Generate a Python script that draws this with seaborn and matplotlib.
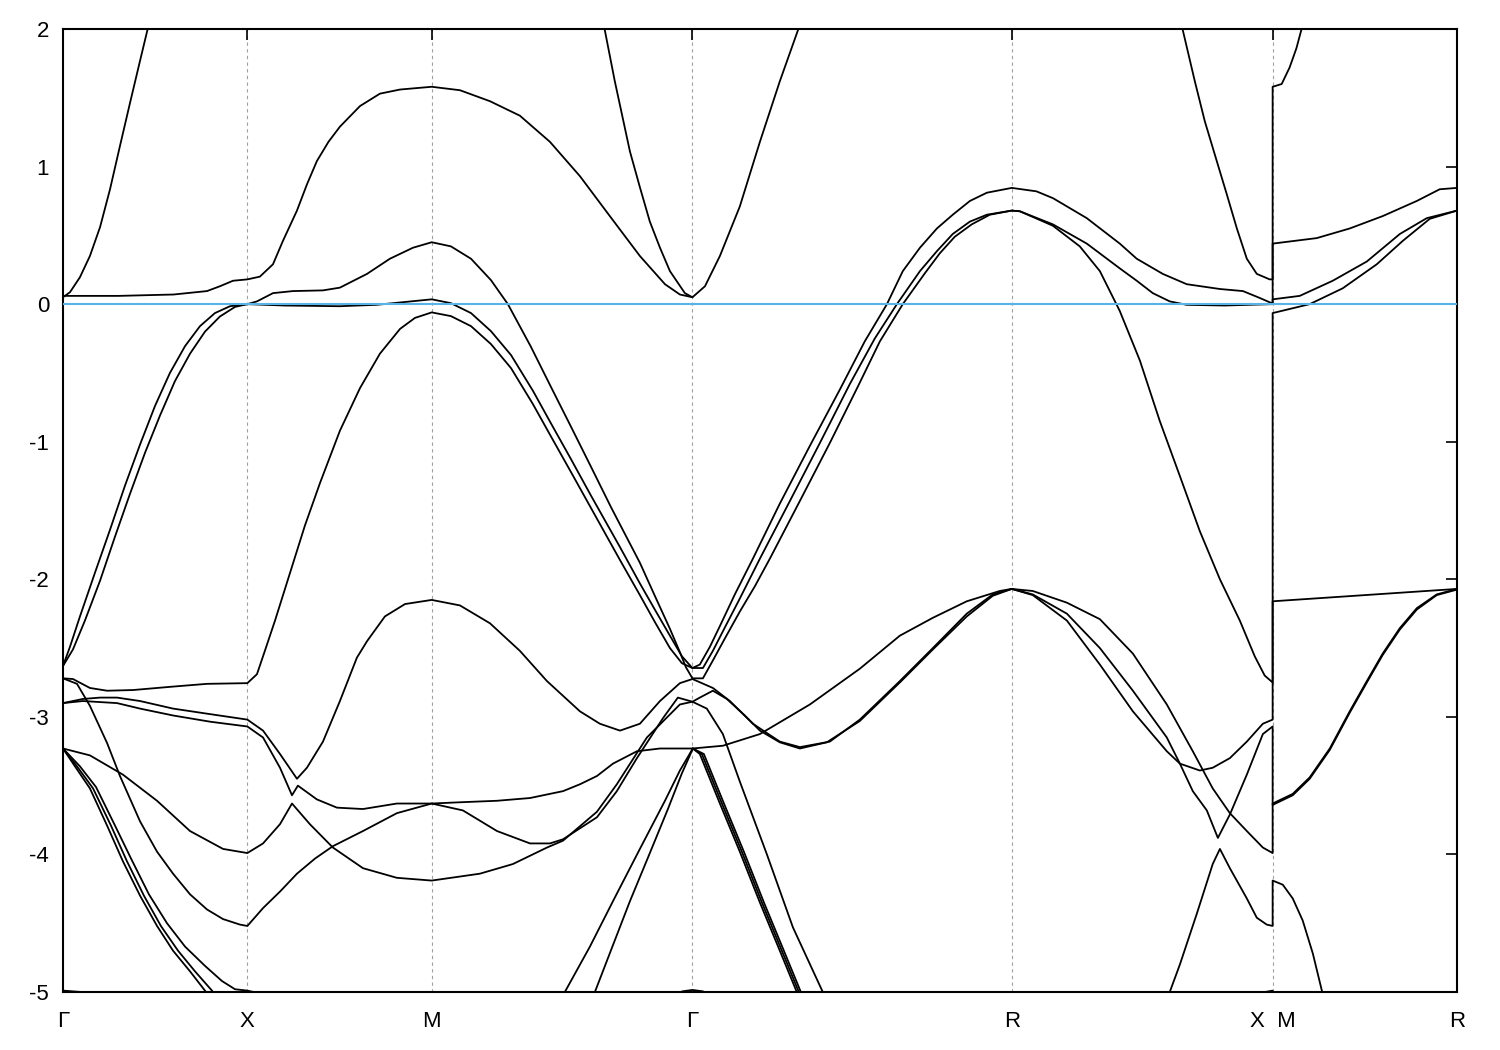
import matplotlib
matplotlib.use("Agg")
import matplotlib.pyplot as plt
import numpy as np
import pandas as pd
import seaborn as sns

# %% High-symmetry path (k in units of 2pi/a along the path)
TICK_POS = [0.0, 1.0, 2.0, 3.414, 5.146, 6.561, 7.561]
TICK_LABELS = ["Γ", "X", "M", "Γ", "R", "X  M", "R"]
GRID_POS = [1.0, 2.0, 3.414, 5.146, 6.561]
YTICKS = [-5, -4, -3, -2, -1, 0, 1, 2]

# %% Bands (k, E in eV); the X|M jump is kept as a repeated k
gx_steep_k = [0, 0.038, 0.092, 0.146, 0.201, 0.255, 0.309, 0.363, 0.418, 0.461, 0.48]
gx_steep_e = [0.05, 0.087, 0.196, 0.35, 0.56, 0.835, 1.15, 1.46, 1.77, 2.01, 2.12]

flat_k = [0, 0.3, 0.6, 0.781, 0.851, 0.922, 1.0, 1.068, 1.139, 1.193, 1.269, 1.323, 1.377, 1.44, 1.502,
          1.611, 1.719, 1.828, 2.0, 2.153, 2.316, 2.478, 2.641, 2.804, 2.966, 3.129, 3.265, 3.346, 3.414]
flat_e = [0.06, 0.06, 0.07, 0.095, 0.13, 0.17, 0.18, 0.20, 0.29, 0.46, 0.68, 0.87, 1.04, 1.18, 1.29,
          1.44, 1.53, 1.56, 1.58, 1.555, 1.475, 1.37, 1.18, 0.93, 0.64, 0.35, 0.145, 0.07, 0.05]

gamma_v_k = [2.91, 2.939, 2.993, 3.075, 3.129, 3.183, 3.238, 3.292, 3.373, 3.414, 3.482, 3.563, 3.671,
             3.78, 3.888, 3.986, 4.01]
gamma_v_e = [2.2, 1.99, 1.62, 1.11, 0.85, 0.60, 0.41, 0.24, 0.08, 0.05, 0.13, 0.35, 0.71,
             1.18, 1.62, 1.99, 2.1]

rx_top_k = [6.06, 6.074, 6.139, 6.193, 6.258, 6.312, 6.367, 6.421, 6.475, 6.545, 6.561,
            6.561, 6.61, 6.653, 6.69, 6.72]
rx_top_e = [2.1, 1.99, 1.62, 1.33, 1.04, 0.80, 0.55, 0.33, 0.22, 0.18, 0.18,
            1.58, 1.60, 1.72, 1.86, 2.01]

band_e_k = [0, 0.054, 0.119, 0.201, 0.282, 0.363, 0.445, 0.526, 0.607, 0.689, 0.770, 0.851, 0.933, 1.0,
            1.2, 1.5, 1.7, 1.79, 2.0,
            2.104, 2.213, 2.321, 2.430, 2.549, 2.646, 2.755, 2.863, 3.021, 3.129, 3.210, 3.292, 3.357, 3.414,
            3.454, 3.509, 3.563, 3.644, 3.742, 3.888, 4.051, 4.214, 4.349, 4.469, 4.555, 4.648, 4.740,
            4.826, 4.919, 5.011, 5.146,
            5.28, 5.37, 5.553, 5.732, 5.824, 5.965, 6.095, 6.275, 6.4, 6.491, 6.556, 6.561,
            6.561, 6.800, 6.979, 7.158, 7.343, 7.467, 7.561]
band_e_e = [-2.63, -2.51, -2.30, -2.01, -1.69, -1.38, -1.08, -0.81, -0.56, -0.36, -0.20, -0.09, -0.02, 0.0,
            -0.01, -0.015, -0.005, 0.007, 0.035,
            0.007, -0.065, -0.196, -0.37, -0.63, -0.865, -1.126, -1.39, -1.766, -2.03, -2.22, -2.41, -2.56, -2.645,
            -2.62, -2.49, -2.34, -2.11, -1.85, -1.45, -1.03, -0.62, -0.27, 0.0, 0.24, 0.41, 0.55,
            0.65, 0.75, 0.81, 0.845,
            0.82, 0.77, 0.625, 0.44, 0.33, 0.22, 0.145, 0.11, 0.095, 0.045, 0.007, 0.005,
            0.44, 0.48, 0.55, 0.64, 0.75, 0.835, 0.845]

band_f_k = [0, 0.054, 0.146, 0.239, 0.38, 0.597, 0.781, 1.0,
            1.052, 1.095, 1.150, 1.231, 1.312, 1.394, 1.502, 1.611, 1.719, 1.828, 1.909, 2.0,
            2.104, 2.213, 2.321, 2.430, 2.549, 2.646, 2.755, 2.863, 3.021, 3.129, 3.210, 3.292, 3.357, 3.414,
            3.471, 3.525, 3.59, 3.671, 3.780, 3.943, 4.105, 4.268, 4.403, 4.523, 4.648, 4.740, 4.826,
            4.919, 5.011, 5.146,
            5.19, 5.369, 5.553, 5.732, 5.824, 5.911, 6.003, 6.095, 6.3, 6.561,
            6.561, 6.708, 6.887, 7.072, 7.251, 7.397, 7.561]
band_f_e = [-2.72, -2.725, -2.79, -2.81, -2.805, -2.78, -2.76, -2.755,
            -2.69, -2.52, -2.30, -1.955, -1.61, -1.30, -0.92, -0.61, -0.36, -0.18, -0.10, -0.06,
            -0.087, -0.16, -0.29, -0.465, -0.727, -0.96, -1.22, -1.48, -1.86, -2.115, -2.31, -2.50, -2.61, -2.645,
            -2.645, -2.52, -2.35, -2.14, -1.85, -1.43, -1.01, -0.58, -0.25, 0.0, 0.24, 0.385, 0.51,
            0.60, 0.65, 0.68,
            0.675, 0.58, 0.44, 0.26, 0.17, 0.08, 0.02, -0.005, -0.01, 0.0,
            0.035, 0.06, 0.17, 0.31, 0.51, 0.625, 0.68]

band_g_k = [0, 0.038, 0.092, 0.174, 0.255, 0.336, 0.418, 0.499, 0.580, 0.662, 0.743, 0.824, 0.906, 1.0,
            1.052, 1.139, 1.247, 1.41, 1.502, 1.649, 1.773, 1.898, 2.0,
            2.104, 2.213, 2.321, 2.413, 2.538, 2.646, 2.755, 2.863, 2.972, 3.129, 3.210, 3.292,
            3.346, 3.379, 3.414,
            3.471, 3.525, 3.59, 3.671, 3.753, 3.834, 3.997, 4.159, 4.311, 4.431, 4.555, 4.675, 4.756,
            4.837, 4.929, 5.027, 5.146,
            5.19, 5.369, 5.515, 5.624, 5.732, 5.841, 5.949, 6.058, 6.166, 6.275, 6.383, 6.464,
            6.518, 6.561,
            6.561, 6.762, 6.941, 7.126, 7.267, 7.413, 7.561]
band_g_e = [-2.63, -2.49, -2.27, -1.95, -1.64, -1.32, -1.02, -0.74, -0.50, -0.305, -0.16, -0.065, -0.015, 0.0,
            0.02, 0.08, 0.095, 0.10, 0.12, 0.22, 0.33, 0.41, 0.45,
            0.42, 0.33, 0.175, 0.0, -0.31, -0.60, -0.89, -1.18, -1.475, -1.88, -2.12, -2.36,
            -2.53, -2.64, -2.72,
            -2.72, -2.59, -2.43, -2.235, -2.05, -1.85, -1.43, -1.01, -0.60, -0.27, 0.0, 0.225, 0.37,
            0.49, 0.58, 0.65, 0.68,
            0.675, 0.57, 0.42, 0.24, -0.05, -0.41, -0.85, -1.25, -1.65, -2.0, -2.30, -2.56,
            -2.70, -2.75,
            -0.065, 0.0, 0.115, 0.29, 0.46, 0.62, 0.68]

band_l3_k = [0, 0.108, 0.201, 0.293, 0.418, 0.597, 0.797, 1.0,
             1.085, 1.177, 1.269, 1.323, 1.410, 1.502, 1.594, 1.649, 1.746, 1.855, 2.0,
             2.153, 2.316, 2.478, 2.625, 2.804, 2.912, 3.021, 3.129, 3.238, 3.346, 3.414,
             3.525, 3.617, 3.742, 3.888, 3.997, 4.159, 4.322, 4.539, 4.718, 4.902, 5.043, 5.146,
             5.260, 5.445, 5.624, 5.803, 5.987, 6.058, 6.166, 6.236, 6.329, 6.421, 6.508, 6.561,
             6.561, 7.061, 7.561]
band_l3_e = [-2.90, -2.87, -2.86, -2.86, -2.885, -2.94, -2.98, -3.02,
             -3.10, -3.27, -3.45, -3.37, -3.18, -2.885, -2.57, -2.45, -2.27, -2.18, -2.15,
             -2.19, -2.32, -2.52, -2.74, -2.96, -3.05, -3.10, -3.05, -2.885, -2.755, -2.725,
             -2.79, -2.885, -3.05, -3.18, -3.22, -3.18, -3.02, -2.74, -2.50, -2.25, -2.11, -2.07,
             -2.115, -2.30, -2.62, -2.96, -3.25, -3.34, -3.39, -3.37, -3.30, -3.18, -3.05, -3.02,
             -2.16, -2.115, -2.07]

band_p_k = [0, 0.108, 0.293, 0.418, 0.597, 0.797, 1.0,
            1.085, 1.177, 1.242, 1.274, 1.377, 1.486, 1.627, 1.811, 2.0,
            2.169, 2.354, 2.533, 2.712, 2.804, 2.896, 2.983, 3.113, 3.238, 3.414,
            3.579, 3.780, 4.051, 4.322, 4.539, 4.718, 4.902, 5.081, 5.146,
            5.260, 5.445, 5.624, 5.803, 5.987, 6.128, 6.236, 6.329, 6.421, 6.508, 6.561,
            6.561, 6.670, 6.762, 6.871, 6.979, 7.072, 7.158, 7.251, 7.343, 7.451, 7.561]
band_p_e = [-2.90, -2.885, -2.90, -2.94, -2.99, -3.035, -3.07,
            -3.15, -3.37, -3.57, -3.50, -3.60, -3.66, -3.67, -3.63, -3.63,
            -3.62, -3.61, -3.59, -3.54, -3.49, -3.43, -3.34, -3.25, -3.23, -3.23,
            -3.21, -3.125, -2.91, -2.65, -2.41, -2.28, -2.16, -2.085, -2.07,
            -2.085, -2.17, -2.29, -2.54, -2.91, -3.25, -3.52, -3.70, -3.83, -3.95, -3.99,
            -3.63, -3.56, -3.44, -3.23, -2.96, -2.74, -2.54, -2.355, -2.21, -2.11, -2.07]

band_q_k = [0, 0.146, 0.325, 0.510, 0.689, 0.868, 1.0,
            1.085, 1.177, 1.242, 1.339, 1.464, 1.627, 1.811, 2.0,
            2.261, 2.440, 2.625, 2.712, 2.896, 3.004, 3.167, 3.346, 3.414, 3.454, 3.525,
            3.601, 3.698, 3.780, 3.888, 3.997, 4.143, 4.322, 4.539, 4.718, 4.902, 5.043, 5.146,
            5.260, 5.445, 5.624, 5.803, 5.987, 6.058, 6.128, 6.204, 6.264, 6.329, 6.421, 6.508, 6.561,
            6.561, 6.670, 6.762, 6.871, 6.979, 7.072, 7.158, 7.251, 7.343, 7.451, 7.561]
band_q_e = [-3.23, -3.28, -3.42, -3.61, -3.83, -3.96, -3.99,
            -3.92, -3.78, -3.63, -3.78, -3.95, -4.10, -4.17, -4.19,
            -4.14, -4.07, -3.95, -3.90, -3.69, -3.49, -3.15, -2.91, -2.89, -2.86, -2.81,
            -2.87, -2.99, -3.10, -3.185, -3.23, -3.185, -3.03, -2.75, -2.51, -2.27, -2.12, -2.07,
            -2.11, -2.25, -2.50, -2.81, -3.15, -3.34, -3.54, -3.68, -3.88, -3.71, -3.42, -3.125, -3.07,
            -3.64, -3.57, -3.45, -3.24, -2.97, -2.75, -2.55, -2.365, -2.22, -2.115, -2.075]

band_r_k = [0, 0.076, 0.146, 0.239, 0.309, 0.418, 0.510, 0.597, 0.689, 0.781, 0.868, 0.960, 1.0,
            1.085, 1.177, 1.269, 1.367, 1.464, 1.627, 1.811, 2.0,
            2.169, 2.354, 2.533, 2.641, 2.712, 2.896, 3.004, 3.113, 3.254, 3.335, 3.414, 3.492,
            3.579, 3.671, 3.818, 3.959, 4.121, 4.159]
band_r_e = [-2.72, -2.76, -2.92, -3.19, -3.43, -3.76, -3.98, -4.14, -4.29, -4.40, -4.47, -4.51, -4.52,
            -4.39, -4.27, -4.14, -4.03, -3.94, -3.83, -3.70, -3.63,
            -3.68, -3.83, -3.92, -3.92, -3.89, -3.73, -3.54, -3.30, -3.01, -2.86, -2.89, -2.94,
            -3.125, -3.47, -4.0, -4.53, -5.0, -5.14]

steep1_k = [0, 0.065, 0.146, 0.239, 0.325, 0.418, 0.510, 0.597, 0.689, 0.770, 0.797]
steep2_k = [0, 0.076, 0.163, 0.260, 0.347, 0.439, 0.531, 0.624, 0.716, 0.808, 0.835]
steep12_e = [-3.23, -3.36, -3.52, -3.79, -4.05, -4.30, -4.52, -4.70, -4.85, -4.99, -5.04]
steep3_k = [0, 0.092, 0.179, 0.282, 0.369, 0.466, 0.564, 0.662, 0.770, 0.862, 0.933, 1.0, 1.068, 1.150]
steep3_e = [-3.23, -3.36, -3.51, -3.79, -4.03, -4.29, -4.50, -4.67, -4.81, -4.92, -4.98, -4.99, -5.01, -5.07]

mg_low1_k = [2.695, 2.722, 2.858, 2.983, 3.129, 3.265, 3.346, 3.390, 3.416]
mg_low1_e = [-5.08, -5.0, -4.67, -4.34, -3.96, -3.61, -3.39, -3.29, -3.23]
mg_low2_k = [2.858, 2.885, 2.977, 3.075, 3.183, 3.281, 3.357, 3.400, 3.416]
mg_low2_e = [-5.09, -5.0, -4.68, -4.34, -3.99, -3.67, -3.41, -3.28, -3.23]

gr_low_e = [-3.23, -3.27, -3.63, -3.98, -4.35, -4.70, -5.0, -5.09]
gr_low1_k = [3.416, 3.454, 3.563, 3.671, 3.780, 3.888, 3.980, 4.008]
gr_low2_k = [3.416, 3.465, 3.574, 3.682, 3.791, 3.899, 3.991, 4.018]
gr_low3_k = [3.416, 3.476, 3.585, 3.693, 3.802, 3.910, 4.002, 4.029]

band_u_k = [5.976, 6.003, 6.058, 6.150, 6.236, 6.275, 6.329, 6.421, 6.475, 6.529, 6.561,
            6.561, 6.616, 6.670, 6.724, 6.779, 6.828, 6.844]
band_u_e = [-5.07, -5.0, -4.80, -4.43, -4.07, -3.96, -4.10, -4.32, -4.46, -4.51, -4.52,
            -4.19, -4.22, -4.32, -4.48, -4.72, -4.99, -5.07]

edge_g_k = [0, 0.1, 0.2]
edge_g_e = [-4.99, -5.0, -5.04]
edge_g2_k = [3.3, 3.36, 3.414, 3.47, 3.53]
edge_g2_e = [-5.03, -4.995, -4.985, -4.995, -5.03]
edge_x_k = [6.45, 6.52, 6.561]
edge_x_e = [-5.04, -5.0, -4.99]

bands = [
    (gx_steep_k, gx_steep_e), (flat_k, flat_e), (gamma_v_k, gamma_v_e), (rx_top_k, rx_top_e),
    (band_e_k, band_e_e), (band_f_k, band_f_e), (band_g_k, band_g_e),
    (band_l3_k, band_l3_e), (band_p_k, band_p_e), (band_q_k, band_q_e), (band_r_k, band_r_e),
    (steep1_k, steep12_e), (steep2_k, steep12_e), (steep3_k, steep3_e),
    (mg_low1_k, mg_low1_e), (mg_low2_k, mg_low2_e),
    (gr_low1_k, gr_low_e), (gr_low2_k, gr_low_e), (gr_low3_k, gr_low_e),
    (band_u_k, band_u_e), (edge_g_k, edge_g_e), (edge_g2_k, edge_g2_e), (edge_x_k, edge_x_e),
]

frames = []
for i, (k, e) in enumerate(bands):
    frames.append(pd.DataFrame({"k": k, "E": e, "band": i}))
df = pd.concat(frames, ignore_index=True)

# %% Plot
sns.set_style("white")
plt.rcParams["font.family"] = ["Liberation Sans", "DejaVu Sans"]
plt.rcParams["axes.unicode_minus"] = False

fig = plt.figure(figsize=(15, 10.5), dpi=100)
ax = fig.add_axes([63 / 1500, 1 - 992 / 1050, 1394 / 1500, 963 / 1050])

for kx in GRID_POS:
    ax.axvline(kx, color="#a0a0a0", lw=0.8, ls=(0, (3, 3)), zorder=0)

sns.lineplot(data=df, x="k", y="E", units="band", estimator=None, sort=False,
             color="black", lw=1.3, ax=ax, legend=False, zorder=2)

ax.axhline(0, color="#56b4e9", lw=1.5, zorder=3)

ax.set_xlim(0, 7.561)
ax.set_ylim(-5, 2)
ax.set_xticks(TICK_POS)
ax.set_xticklabels(TICK_LABELS)
ax.set_yticks(YTICKS)
ax.set_yticklabels([str(v) for v in YTICKS])
ax.set_xlabel("")
ax.set_ylabel("")
ax.tick_params(direction="in", length=8, width=1.2, top=True, right=True,
               labelsize=16, colors="black")
ax.tick_params(axis="x", pad=14)
ax.tick_params(axis="y", pad=10)
for sp in ax.spines.values():
    sp.set_color("black")
    sp.set_linewidth(1.5)

fig.savefig("out.png", dpi=100)
